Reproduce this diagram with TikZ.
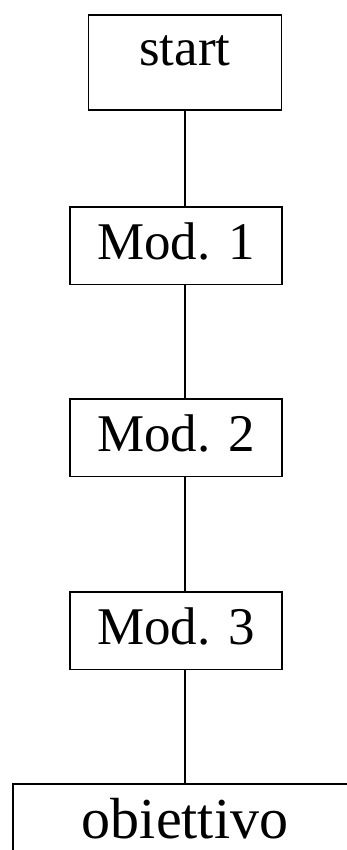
\documentclass[tikz,border=0pt]{standalone}
\usepackage{fontspec}
\setmainfont{Liberation Serif}
\begin{document}
\begin{tikzpicture}[x=1pt,y=1pt,
  box/.style={draw,line width=1.7pt,inner sep=0pt,anchor=north,align=center},
  modbox/.style={box,minimum width=212pt,text height=52.5pt,text depth=25pt,font=\fontsize{53}{60}\selectfont},
  link/.style={line width=1.3pt}]
\useasboundingbox (0,0) rectangle (347,-850);
\node[box,minimum width=193pt,text height=51pt,text depth=44pt,font=\fontsize{53}{60}\selectfont] (start) at (185,-14) {start};
\node[modbox] (m1) at (176,-206) {Mod. 1};
\node[modbox] (m2) at (176,-398) {Mod. 2};
\node[modbox] (m3) at (176,-591) {Mod. 3};
\node[box,minimum width=344pt,text height=55pt,text depth=25pt,font=\fontsize{58}{64}\selectfont] (goal) at (185,-783) {obiettivo};
\draw[link] (start.south) -- (start.south |- m1.north);
\draw[link] ([xshift=9pt]m1.south) -- ([xshift=9pt]m2.north);
\draw[link] ([xshift=9pt]m2.south) -- ([xshift=9pt]m3.north);
\draw[link] ([xshift=9pt]m3.south) -- (goal.north);
\end{tikzpicture}
\end{document}
